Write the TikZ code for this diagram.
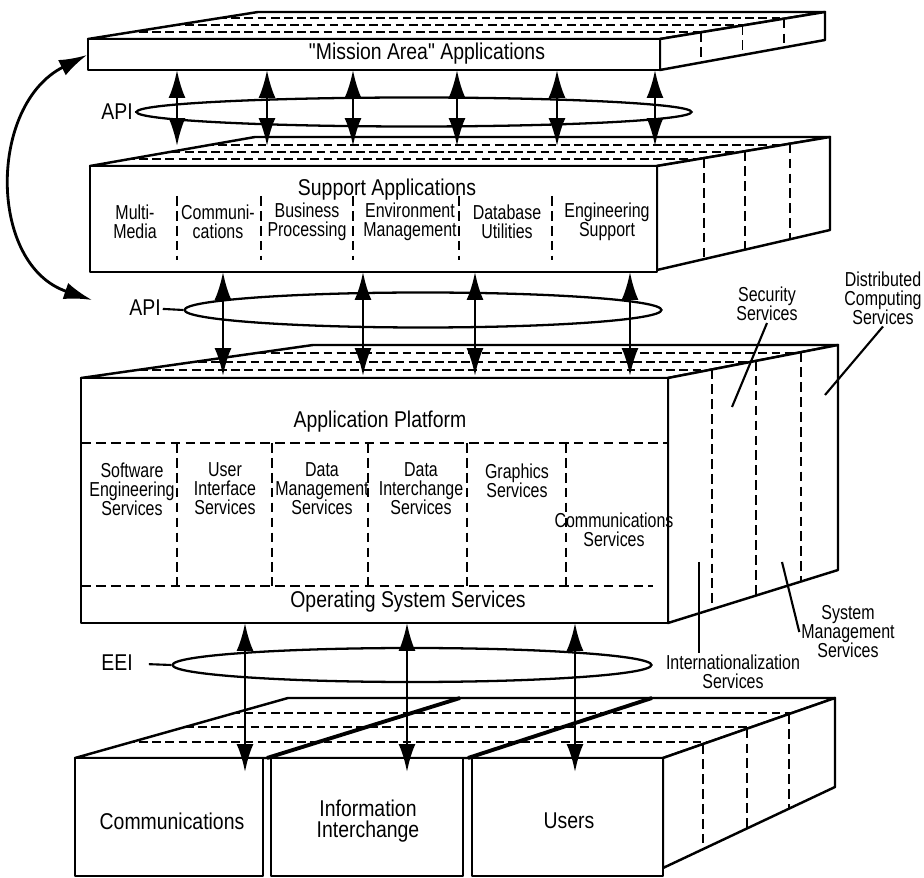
\documentclass[tikz,border=0pt]{standalone}
\usepackage{fontspec}
\setmainfont{Liberation Sans}[FakeStretch=0.85]
\newfontfamily\labelfont{Liberation Sans}[FakeStretch=0.85]
\newfontfamily\condfont{Liberation Sans}[FakeStretch=0.79]
\usetikzlibrary{arrows.meta, shapes.geometric, calc}

\begin{document}
\begin{tikzpicture}[x=0.02cm, y=-0.02cm,
    slab/.style={draw, line width=1.4pt, fill=white, line join=round},
    hatch/.style={line width=1pt, dash pattern=on 5pt off 2.5pt},
    divider/.style={line width=1.1pt, dash pattern=on 5.5pt off 3pt},
    dbl/.style={line width=1.6pt, {Latex[length=0.56cm, width=0.34cm]}-{Latex[length=0.56cm, width=0.34cm]}},
    ring/.style={draw, ellipse, line width=1.3pt, inner sep=0pt},
    lbl/.style={font=\labelfont\fontsize{13}{12}\selectfont, align=center, inner sep=1pt},
    sub/.style={font=\condfont\fontsize{11.5}{10.8}\selectfont, align=center, inner sep=1pt},
    leader/.style={line width=1.2pt}]
  \useasboundingbox (0,0) rectangle (924,878);

  % "mission area" slab
  \draw[slab] (88,39) -- (258,12) -- (825,12) -- (660,39) -- cycle;
  \begin{scope}
    \clip (88,39) -- (258,12) -- (825,12) -- (660,39) -- cycle;
    \draw[hatch] (60,18) -- (840,18);
    \draw[hatch, dash phase=4pt] (60,25) -- (840,25);
    \draw[hatch] (60,32) -- (840,32);
  \end{scope}
  \draw[slab] (660,39) coordinate (ma) -- (825,12) coordinate (mb) -- (825,40) coordinate (mc) -- (660,70) coordinate (md) -- cycle;
  \foreach \t in {0.25,0.5,0.75}
    \draw[divider] ($(ma)!\t!(mb)$) -- ($(md)!\t!(mc)$);
  \draw[slab] (88,39) rectangle (660,70);
  \node[lbl] (mission) at (427,54) {"Mission Area" Applications};

  % support slab
  \draw[slab] (90,166) -- (255,137) -- (830,137) -- (657,166) -- cycle;
  \begin{scope}
    \clip (90,166) -- (255,137) -- (830,137) -- (657,166) -- cycle;
    \draw[hatch] (60,145) -- (840,145);
    \draw[hatch, dash phase=4pt] (60,152) -- (840,152);
    \draw[hatch] (60,159) -- (840,159);
  \end{scope}
  \draw[slab] (657,166) coordinate (sa) -- (830,137) coordinate (sb) -- (830,230) coordinate (sc) -- (657,270) coordinate (sd) -- cycle;
  \foreach \t in {0.27,0.51,0.77}
    \draw[divider] ($(sa)!\t!(sb)$) -- ($(sd)!\t!(sc)$);
  \draw[slab] (90,166) rectangle (657,272);
  \node[lbl] (support) at (387,190) {Support Applications};
  \node[sub] (mm) at (135,222) {Multi-\\Media};
  \node[sub] (cm) at (218,222) {Communi-\\cations};
  \node[sub] (bp) at (307,222) {Business\\Processing};
  \node[sub] (em) at (410,222) {Environment\\Management};
  \node[sub] (du) at (507,222) {Database\\Utilities};
  \node[sub] (es) at (607,222) {Engineering\\Support};
  \foreach \x in {177,261,353,459,552}
    \draw[divider] (\x,196) -- (\x,260);

  % application platform slab
  \draw[slab] (81,378) -- (313,345) -- (838,345) -- (668,378) -- cycle;
  \begin{scope}
    \clip (81,378) -- (313,345) -- (838,345) -- (668,378) -- cycle;
    \draw[hatch] (60,353) -- (850,353);
    \draw[hatch, dash phase=4pt] (60,362) -- (850,362);
    \draw[hatch] (60,370) -- (850,370);
  \end{scope}
  \draw[slab] (668,378) coordinate (pa) -- (838,345) coordinate (pb) -- (838,570) coordinate (pc) -- (668,623) coordinate (pd) -- cycle;
  \foreach \t in {0.26,0.52,0.78}
    \draw[divider] ($(pa)!\t!(pb)$) -- ($(pd)!\t!(pc)$);
  \draw[slab] (81,378) rectangle (668,623);
  \node[lbl] (platform) at (380,422) {Application Platform};
  \draw[divider] (81,443) -- (668,443);
  \draw[divider] (81,586) -- (653,586);
  \foreach \x in {177,272,368,467,566}
    \draw[divider] (\x,443) -- (\x,586);
  \node[sub] (swe) at (132,489) {Software\\Engineering\\Services};
  \node[sub] (ui) at (225,489) {User\\Interface\\Services};
  \node[sub] (dm) at (322,489) {Data\\Management\\Services};
  \node[sub] (di) at (421,489) {Data\\Interchange\\Services};
  \node[sub] (gs) at (517,481) {Graphics\\Services};
  \node[sub] (cs) at (614,530) {Communications\\Services};
  \node[lbl] (os) at (408,602) {Operating System Services};

  % external environment
  \draw[slab] (75,758) -- (288,698) -- (835,698) -- (663,758) -- cycle;
  \begin{scope}
    \clip (75,758) -- (288,698) -- (835,698) -- (663,758) -- cycle;
    \draw[hatch] (60,713) -- (850,713);
    \draw[hatch, dash phase=4pt] (60,727) -- (850,727);
    \draw[hatch] (60,742) -- (850,742);
  \end{scope}
  \draw[line width=2.2pt] (267,758) -- (460,698);
  \draw[line width=2.2pt] (468,758) -- (652,698);
  \draw[slab] (663,758) coordinate (ea) -- (835,698) coordinate (eb) -- (835,787) coordinate (ec) -- (663,868) coordinate (ed) -- cycle;
  \foreach \t in {0.23,0.49,0.73}
    \draw[divider] ($(ea)!\t!(eb)$) -- ($(ed)!\t!(ec)$);
  \draw[slab] (75,758) rectangle (263,876);
  \draw[slab] (271,758) rectangle (463,876);
  \draw[slab] (472,758) rectangle (663,876);
  \node[lbl] (comms) at (172,821) {Communications};
  \node[lbl] (info) at (368,821) {Information\\Interchange};
  \node[lbl] (users) at (569,821) {Users};

  % interfaces
  \node[ring, minimum width=11.1cm, minimum height=0.58cm] (api1) at (414,112) {};
  \node[lbl] (apitxt1) at (117,112) {API};
  \draw[leader] (apitxt1) -- (api1.west);
  \node[ring, minimum width=9.54cm, minimum height=0.7cm] (api2) at (423,310) {};
  \node[lbl] (apitxt2) at (145,308) {API};
  \draw[leader] (apitxt2) -- (api2.west);
  \node[ring, minimum width=9.58cm, minimum height=0.68cm] (eei) at (412,665) {};
  \node[lbl] (eeitxt) at (117,663) {EEI};
  \draw[leader, shorten <=8pt] (eeitxt) -- (eei.west);

  \foreach \x [count=\i] in {177,267,353,457,557,655} {
    \coordinate (mt\i) at (\x,70);
    \coordinate (mu\i) at (\x,146);
    \draw[dbl] (mt\i) -- (mu\i);
  }
  \foreach \x [count=\i] in {223,363,475,630} {
    \coordinate (st\i) at (\x,272);
    \coordinate (su\i) at (\x,376);
    \draw[dbl] (st\i) -- (su\i);
  }
  \foreach \x [count=\i] in {245,407,575} {
    \coordinate (pt\i) at (\x,623);
    \coordinate (pu\i) at (\x,772);
    \draw[dbl] (pt\i) -- (pu\i);
  }

  % layers loop
  \coordinate (loopa) at (87,55);
  \coordinate (loopb) at (92,300);
  \draw[dbl] (loopb) .. controls (-12,265) and (-12,105) .. (loopa);

  % service labels
  \node[sub] (sec) at (767,304) {Security\\Services};
  \coordinate (secpt) at (732,407);
  \draw[leader] (sec.south) -- (secpt);
  \node[sub] (dcs) at (883,298) {Distributed\\Computing\\Services};
  \coordinate (dcspt) at (825,395);
  \draw[leader] (dcs.south) -- (dcspt);
  \node[sub] (sms) at (848,632) {System\\Management\\Services};
  \coordinate (smspt) at (782,562);
  \draw[leader] (smspt) -- (sms.west);
  \node[sub] (intl) at (733,672) {Internationalization\\Services};
  \coordinate (intlpt) at (699,562);
  \draw[leader] (intlpt) -- (intlpt |- intl.north);
\end{tikzpicture}
\end{document}
